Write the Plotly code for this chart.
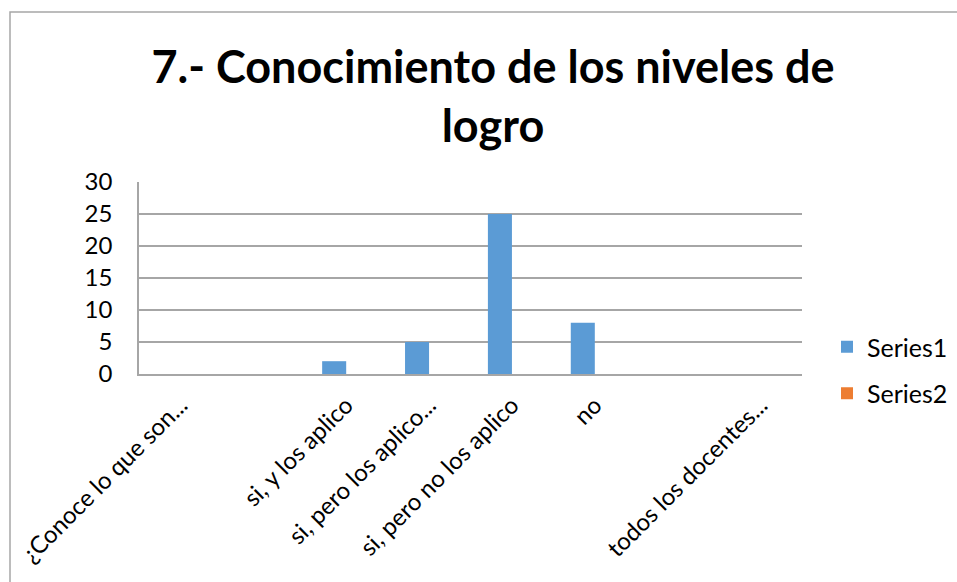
import plotly.graph_objects as go

categories = ["¿Conoce lo que son...", "", "si, y los aplico", "si, pero los aplico...",
              "si, pero no los aplico", "no", "", "todos los docentes..."]
series1 = [0, 0, 2, 5, 25, 8, 0, 0]
series2 = [0, 0, 0, 0, 0, 0, 0, 0]
y_ticks = [0, 5, 10, 15, 20, 25, 30]

W, H = 957, 582
# target plot box in window pixels
PL, PR, PT, PB = 139, 802, 182, 374
ML, MT = PL, PT
MR = W - PR
MB = H - PB
PW, PH = PR - PL, PB - PT

def px_x(x):
    return (x - PL) / PW

def px_y(y):
    return (PB - y) / PH

FONT = "Lato, Calibri, sans-serif"
x_idx = list(range(len(categories)))

fig = go.Figure()
fig.add_trace(go.Bar(x=x_idx, y=series1, name="Series1", marker=dict(color="#5b9bd5", line=dict(width=0)),
                     legendgroup="a"))
fig.add_trace(go.Bar(x=x_idx, y=series2, name="Series2", marker=dict(color="#ed7d31", line=dict(width=0)),
                     legendgroup="b"))

bx0, by0, bx1, by1 = px_x(10), px_y(12), px_x(W + 40), px_y(H + 40)
border_path = f"M {bx0},{by1} L {bx0},{by0} L {bx1},{by0}"

fig.update_layout(
    template="none",
    width=W, height=H,
    margin=dict(l=ML, r=MR, t=MT, b=MB, pad=0, autoexpand=False),
    paper_bgcolor="white", plot_bgcolor="white",
    barmode="group", bargap=0.42, bargroupgap=0,
    font=dict(family=FONT, color="black"),
    title=dict(text="<b>7.- Conocimiento de los niveles de<br>logro</b>",
               font=dict(family=FONT, size=45, color="black"),
               x=493 / W, xanchor="center", xref="container",
               y=1 - 83 / H, yanchor="top", yref="container"),
    xaxis=dict(range=[-0.5, len(categories) - 0.5], tickmode="array", tickvals=x_idx,
               ticktext=categories, tickangle=-45, showgrid=False, showline=True,
               linecolor="#a6a6a6", linewidth=1.5, ticks="", zeroline=False,
               tickfont=dict(family=FONT, size=24, color="black"), ticklabelstandoff=6),
    yaxis=dict(range=[0, 30], tickmode="array", tickvals=y_ticks, showgrid=True,
               gridcolor="#a6a6a6", gridwidth=1.5, showline=True, linecolor="#a6a6a6",
               linewidth=1.5, ticks="", zeroline=False,
               tickfont=dict(family=FONT, size=24, color="black"), ticklabelstandoff=20),
    legend=dict(x=px_x(827), y=px_y(370), xanchor="left", yanchor="middle",
                font=dict(family=FONT, size=25, color="black"),
                traceorder="grouped", tracegroupgap=11, bgcolor="rgba(0,0,0,0)"),
    showlegend=True,
    shapes=[dict(type="path", xref="paper", yref="paper", path=border_path,
                 line=dict(color="#a6a6a6", width=1.5), layer="below")],
)

fig.write_html("out.html", config={"displayModeBar": False},
               post_script="document.body.style.margin='0';document.body.style.overflow='hidden';")
